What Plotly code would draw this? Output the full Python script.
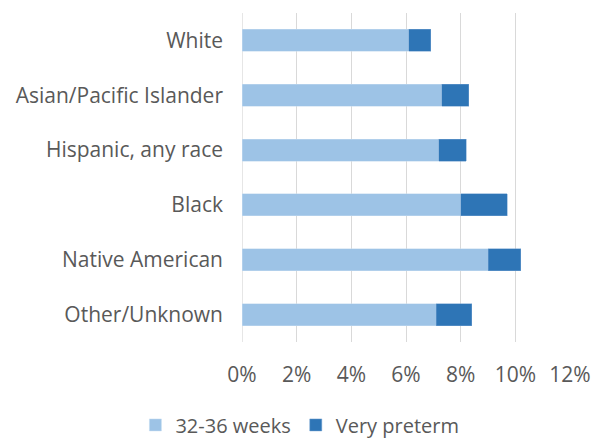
import plotly.graph_objects as go

categories = ["White", "Asian/Pacific Islander", "Hispanic, any race", "Black",
              "Native American", "Other/Unknown"]
weeks_32_36 = [6.1, 7.3, 7.2, 8.0, 9.0, 7.1]
very_preterm = [0.8, 1.0, 1.0, 1.7, 1.2, 1.3]
tick_vals = [0, 2, 4, 6, 8, 10, 12]
tick_text = ["0%", "2%", "4%", "6%", "8%", "10%", "12%"]

font_family = "Open Sans, Liberation Sans, sans-serif"
gray = "#595959"
fs = 21

fig = go.Figure()
fig.add_trace(go.Bar(y=categories, x=weeks_32_36, orientation="h", name="32-36 weeks",
                     marker=dict(color="#9dc3e6", line=dict(color="#c5dcf0", width=0.5))))
fig.add_trace(go.Bar(y=categories, x=very_preterm, orientation="h", name="Very preterm",
                     marker=dict(color="#2e75b6", line=dict(color="#6f9fd0", width=0.5))))

fig.update_layout(
    barmode="stack",
    bargap=0.6,
    width=596, height=439,
    margin=dict(l=242, r=26, t=13, b=97, autoexpand=False),
    plot_bgcolor="white", paper_bgcolor="white",
    font=dict(family=font_family, size=fs, color=gray),
    legend=dict(orientation="h", x=-0.325, xanchor="left",
                y=-0.252, yanchor="middle",
                font=dict(size=20, color=gray), traceorder="normal",
                itemwidth=30, tracegroupgap=0),
    xaxis=dict(range=[0, 12], tickvals=tick_vals, ticktext=tick_text,
               showgrid=True, gridcolor="#d9d9d9", gridwidth=1.3, zeroline=False,
               showline=False, ticks="", ticklabelstandoff=18,
               tickfont=dict(size=fs, color=gray)),
    yaxis=dict(categoryorder="array", categoryarray=categories[::-1],
               showgrid=False, showline=False, ticks="", ticklabelstandoff=18,
               tickfont=dict(size=fs, color=gray)),
)
fig.add_vline(x=0, line=dict(color="#d9d9d9", width=1.3), layer="below")
fig.write_html("out.html", post_script="document.body.style.margin='0';",
               config={"displayModeBar": False})
